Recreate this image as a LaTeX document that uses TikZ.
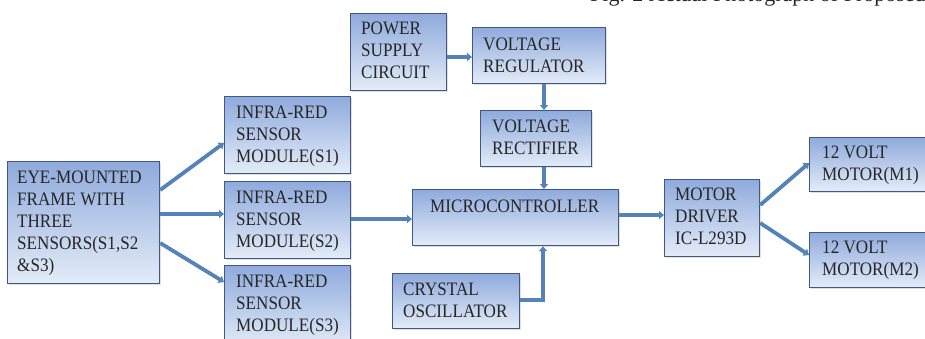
\documentclass[tikz,border=0pt]{standalone}
\usepackage{fontspec}
\setmainfont{Liberation Serif}[FakeStretch=0.9]
\newfontfamily\capfont{Liberation Serif}
\usetikzlibrary{arrows.meta,calc,shadows}
\definecolor{boxtop}{RGB}{143,170,220}
\definecolor{boxbot}{RGB}{228,236,248}
\definecolor{boxline}{RGB}{62,90,130}
\definecolor{connc}{RGB}{84,130,185}
\tikzset{
  box/.style={draw=boxline, line width=1.2pt, rectangle, inner sep=0pt, anchor=north west,
    top color=boxtop, bottom color=boxbot,
    drop shadow={shadow xshift=1.2pt, shadow yshift=-1.2pt, fill=black!35, opacity=0.35}},
  lbl/.style={inner sep=0pt, anchor=base west, text=black!85},
  conn/.style={draw=connc, line width=3.8pt, -{Triangle[length=5pt,width=8pt]}},
}
\newcommand\blk[8]{%
  \node[box, minimum width=#4pt, minimum height=#5pt] (#1) at (#2,#3) {};
  \node[lbl] (#1t) at ($(#1.north west)+(#6,#7)$) {\parbox[t]{220pt}{\fontsize{19}{22}\selectfont\raggedright #8}};
}
\begin{document}
\begin{tikzpicture}[x=1pt,y=-1pt]
\useasboundingbox (0,0) rectangle (925,338);
\clip (0,0) rectangle (925,338);
\node[inner sep=0pt, anchor=base west, text=black!85, font=\capfont\fontsize{22}{24}\selectfont] (cap) at (590,1.5) {Fig. 2 Actual Photograph of Proposed};
\blk{pow}{350}{13}{96}{77}{11}{21}{POWER\\SUPPLY\\CIRCUIT}
\blk{reg}{472}{27}{133}{56}{11}{23}{VOLTAGE\\REGULATOR}
\blk{rec}{480}{110}{111}{56}{12}{22}{VOLTAGE\\RECTIFIER}
\blk{eye}{7}{161}{152}{122}{10}{22}{EYE-MOUNTED\\FRAME WITH\\THREE\\SENSORS(S1,S2\\\&S3)}
\blk{ira}{224}{96}{126}{77}{12}{22}{INFRA-RED\\SENSOR\\MODULE(S1)}
\blk{irb}{224}{181}{126}{77}{12}{22}{INFRA-RED\\SENSOR\\MODULE(S2)}
\blk{irc}{224}{265}{126}{82}{12}{22}{INFRA-RED\\SENSOR\\MODULE(S3)}
\blk{mcu}{412}{189}{206}{56}{18}{23}{MICROCONTROLLER}
\blk{cry}{392}{273}{127}{55}{11}{22}{CRYSTAL\\OSCILLATOR}
\blk{drv}{664}{179}{95}{77}{11}{21}{MOTOR\\DRIVER\\IC-L293D}
\blk{ma}{809}{137}{125}{54}{13}{21}{12 VOLT\\MOTOR(M1)}
\blk{mb}{809}{232}{125}{55}{13}{21}{12 VOLT\\MOTOR(M2)}

\draw[conn] (pow.east |- 0,57) -- (reg.west |- 0,57);
\draw[conn] (reg.south -| 544,0) -- (rec.north -| 544,0);
\draw[conn] (rec.south -| 544,0) -- (mcu.north -| 544,0);
\draw[conn] (eye.east |- 0,190) -- (ira.west |- 0,143);
\draw[conn] (eye.east |- 0,214) -- (irb.west |- 0,214);
\draw[conn] (eye.east |- 0,243) -- (irc.west |- 0,282);
\draw[conn] (irb.east |- 0,219) -- (mcu.west |- 0,219);
\draw[conn] (cry.east |- 0,300) -| (mcu.south -| 543,0);
\draw[conn] (mcu.east |- 0,215) -- (drv.west |- 0,215);
\draw[conn] (drv.east |- 0,205) -- (ma.west |- 0,163);
\draw[conn] (drv.east |- 0,223) -- (mb.west |- 0,255);
\end{tikzpicture}
\end{document}
